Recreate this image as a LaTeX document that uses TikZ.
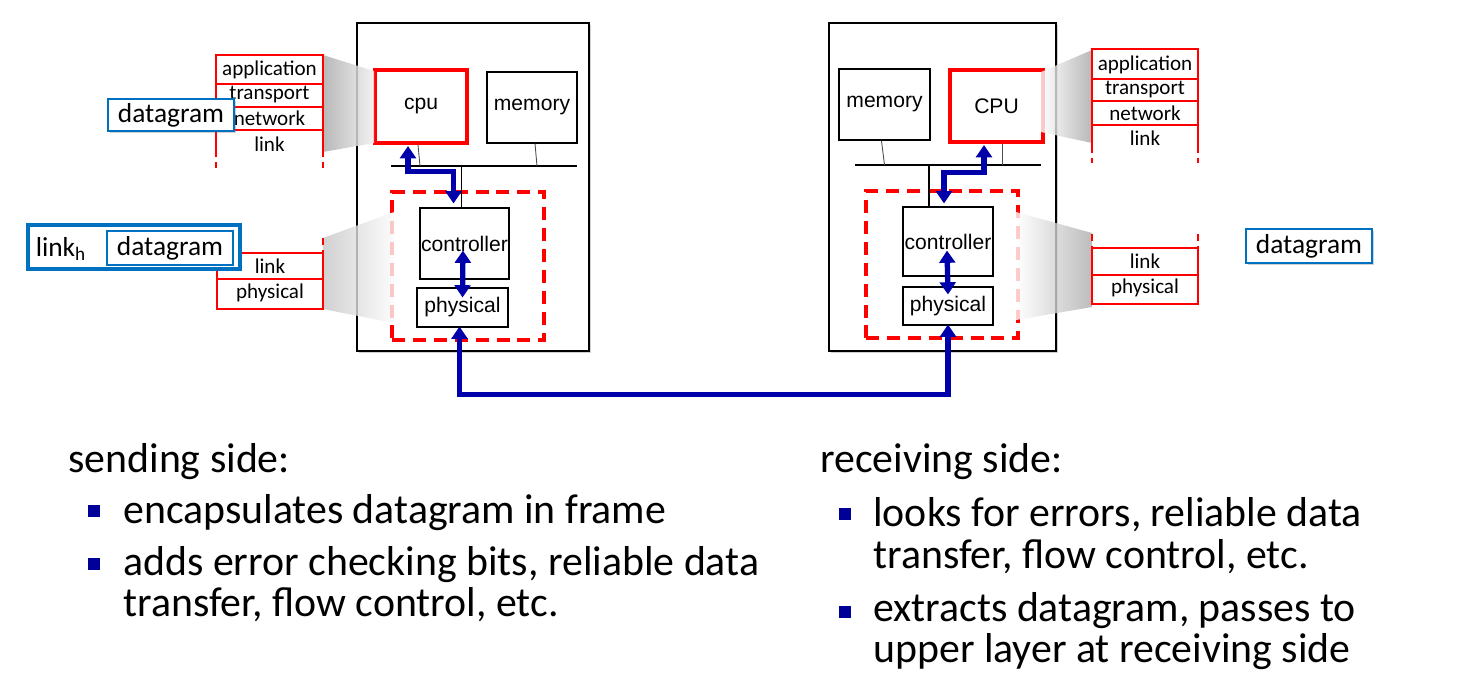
\documentclass[tikz,border=0pt]{standalone}
\usepackage{fontspec}
\setmainfont{Carlito}
\newfontfamily\arialfont{Liberation Sans}
\usetikzlibrary{positioning,calc,arrows.meta,shadows}

\newlength{\pxu}
\setlength{\pxu}{0.02cm}
\definecolor{stackred}{HTML}{FF0000}
\definecolor{dgblue}{HTML}{0070C0}
\definecolor{linkblue}{HTML}{0000AA}
\definecolor{bulletblue}{HTML}{000099}

\tikzset{
  softshadow/.style={drop shadow={shadow xshift=1.3pt, shadow yshift=-1.3pt, opacity=0.3, fill=black!60}},
  host/.style={draw, line width=0.6pt, fill=white, inner sep=0pt, softshadow},
  hwbox/.style={draw, line width=0.6pt, fill=white, inner sep=0pt, font=\arialfont\fontsize{12}{12}\selectfont},
  cpubox/.style={hwbox, draw=stackred, line width=2.3pt},
  nicbox/.style={draw=stackred, line width=2.3pt, dash pattern=on 7.4pt off 4.5pt, inner sep=0pt},
  stacklabel/.style={inner sep=0pt, font=\fontsize{12}{12}\selectfont},
  dgram/.style={draw=dgblue, line width=1.4pt, fill=white, inner sep=0pt, minimum width=126\pxu, minimum height=33\pxu, font=\fontsize{15.6}{15.6}\selectfont},
  bustick/.style={line width=0.5pt, black!70},
  darrow/.style={linkblue, line width=3pt, miter limit=4, {Triangle[width=9pt,length=7pt]}-{Triangle[width=9pt,length=7pt]}},
  bigtext/.style={inner sep=0pt, anchor=base west, font=\fontsize{23.8}{24}\selectfont},
  bulletsq/.style={fill=bulletblue, inner sep=0pt, minimum size=12\pxu},
}

\begin{document}
\begin{tikzpicture}[x=0.02cm, y=-0.02cm]
  \useasboundingbox (0,0) rectangle (1458,694);

  % sending host
  \node[host, minimum width=232\pxu, minimum height=328\pxu] (lhost) at (473,187) {};
  \node[cpubox, minimum width=92\pxu, minimum height=73\pxu] (lcpu) at (421,106.5) {cpu};
  \node[hwbox, minimum width=90\pxu, minimum height=71\pxu] (lmem) at (532,107.5) {memory};
  \coordinate (lbusl) at (391,166);
  \coordinate (lbusr) at (577,166);
  \draw[line width=0.6pt] (lbusl) -- (lbusr);
  \node[nicbox, minimum width=152\pxu, minimum height=148\pxu] (lnic) at (468,266) {};
  \node[hwbox, minimum width=89\pxu, minimum height=71\pxu] (lctrl) at (464.5,243.5) {controller};
  \node[hwbox, minimum width=91\pxu, minimum height=39\pxu] (lphys) at (462.5,307.5) {physical};
  \draw[bustick] ($(lcpu.south)+(-3,0)$) -- ($(lcpu.south |- lbusl)+(-1,0)$);
  \draw[bustick] ($(lmem.south)+(3,0)$) -- ($(lmem.south |- lbusl)+(5,0)$);
  \draw[line width=0.6pt] ($(lctrl.north)+(-3,0)$) -- ($(lctrl.north |- lbusl)+(-3,0)$);

  % receiving host
  \node[host, minimum width=227\pxu, minimum height=328\pxu] (rhost) at (942.5,187) {};
  \node[hwbox, line width=1.1pt, minimum width=91\pxu, minimum height=71\pxu] (rmem) at (884.5,104.5) {memory};
  \node[cpubox, minimum width=93\pxu, minimum height=72\pxu] (rcpu) at (996.5,106) {CPU};
  \coordinate (rbusl) at (855,165);
  \coordinate (rbusr) at (1041,165);
  \draw[line width=0.6pt] (rbusl) -- (rbusr);
  \node[nicbox, minimum width=152\pxu, minimum height=147\pxu] (rnic) at (942,264.5) {};
  \node[hwbox, minimum width=90\pxu, minimum height=69\pxu] (rctrl) at (948,241.5) {controller};
  \node[hwbox, minimum width=90\pxu, minimum height=38\pxu] (rphys) at (948,306) {physical};
  \draw[bustick] ($(rmem.south)+(-3,0)$) -- ($(rmem.south |- rbusl)+(0,0)$);
  \draw[bustick] ($(rcpu.south)+(5.5,0)$) -- ($(rcpu.south |- rbusl)+(5.5,0)$);
  \draw[line width=0.6pt] ($(rctrl.north)+(-19,0)$) -- ($(rctrl.north |- rbusl)+(-19,0)$);

  % zoom shadings
  \shade[left color=gray!65, right color=gray!12, opacity=0.85] (323,55) -- (374,71) -- (374,143) -- (323,152) -- cycle;
  \shade[left color=gray!45, right color=gray!3, opacity=0.8] (323,238) -- (394,212) -- (394,323) -- (323,309) -- cycle;
  \shade[left color=white, right color=gray!70, opacity=0.8] (1041,72) -- (1092,50) -- (1092,143) -- (1041,132) -- cycle;
  \shade[left color=white, right color=gray!65, opacity=0.8] (1016,212) -- (1092,233) -- (1092,307) -- (1016,320) -- cycle;

  % sending stacks
  \draw[stackred, line width=1.4pt] (216,150) -- (216,55) -- (323,55) -- (323,150);
  \foreach \yy in {84,107,130}
    \draw[stackred, line width=0.6pt] (216,\yy) -- (323,\yy);
  \draw[stackred, line width=0.6pt, dash pattern=on 4pt off 3pt] (216,150) -- (216,168) (323,150) -- (323,168);
  \node[stacklabel] (lapp) at (269.5,70) {application};
  \node[stacklabel] (ltrans) at (269.5,95) {transport};
  \node[stacklabel] (lnet) at (269.5,118.5) {network};
  \node[stacklabel] (llink) at (269.5,144) {link};

  \draw[stackred, line width=0.6pt, dash pattern=on 4pt off 3pt] (217,238) -- (217,253) (323,238) -- (323,253);
  \draw[stackred, line width=0.8pt] (217,253) rectangle (323,309);
  \draw[stackred, line width=0.6pt] (217,279) -- (323,279);
  \node[stacklabel] (llink2) at (270,266.5) {link};
  \node[stacklabel] (lphy2) at (270,292.5) {physical};

  % receiving stacks
  \draw[stackred, line width=1.4pt] (1092,146) -- (1092,49) -- (1198,49) -- (1198,146);
  \foreach \yy in {79,101,125}
    \draw[stackred, line width=0.6pt] (1092,\yy) -- (1198,\yy);
  \draw[stackred, line width=0.6pt, dash pattern=on 4pt off 3pt] (1092,146) -- (1092,163) (1198,146) -- (1198,163);
  \node[stacklabel] (rapp) at (1145,65) {application};
  \node[stacklabel] (rtrans) at (1145,90) {transport};
  \node[stacklabel] (rnet) at (1145,113.5) {network};
  \node[stacklabel] (rlink) at (1145,138) {link};

  \draw[stackred, line width=0.6pt, dash pattern=on 4pt off 3pt] (1092,234) -- (1092,248) (1198,234) -- (1198,248);
  \draw[stackred, line width=0.8pt] (1092,248) rectangle (1198,304);
  \draw[stackred, line width=0.6pt] (1092,275) -- (1198,275);
  \node[stacklabel] (rlink2) at (1145,261.5) {link};
  \node[stacklabel] (rphy2) at (1145,287.5) {physical};

  % datagrams and frame
  \node[dgram, minimum height=32\pxu, softshadow] (ldgram) at (171,115) {datagram};
  \node[draw=dgblue, line width=2.3pt, fill=white, inner sep=0pt, minimum width=212\pxu, minimum height=44\pxu, softshadow] (lframe) at (134,247) {};
  \node[dgram, minimum height=34\pxu] (lfdgram) at (170,248) {datagram};
  \node[inner sep=0pt, font=\fontsize{15.6}{15.6}\selectfont] (lhdr) at (61,249) {link\textsubscript{h}};
  \node[dgram, minimum height=34\pxu, softshadow] (rdgram) at (1309,246) {datagram};

  % links
  \draw[darrow] ($(lcpu.south)+(-13,1)$) |- ($(lctrl.north)+(-11,-36)$) -- ($(lctrl.north)+(-11,-4)$);
  \draw[darrow] ($(lctrl.south)+(-1.5,-29)$) -- ($(lphys.north)+(0,10)$);
  \draw[darrow] ($(rcpu.south)+(-12.5,1)$) |- ($(rctrl.north)+(-4,-34)$) -- ($(rctrl.north)+(-4,-3)$);
  \draw[darrow] ($(rctrl.south)+(-1,-26)$) -- ($(rphys.north)+(0,8)$);
  \draw[darrow] ($(lphys.south)+(-3,-1)$) -- ++(0,68) -| ($(rphys.south)+(0,-1)$);

  % sending side text
  \node[bigtext] (send) at (68,472) {sending side:};
  \node[bulletsq] (sb1) at (94,511) {};
  \node[bigtext] (st1) at (123,523) {encapsulates datagram in frame};
  \node[bulletsq] (sb2) at (94,564) {};
  \node[bigtext] (st2) at (123,575) {adds error checking bits, reliable data};
  \node[bigtext] (st3) at (123,616) {transfer, flow control, etc.};

  % receiving side text
  \node[bigtext] (recv) at (820,472) {receiving side:};
  \node[bulletsq] (rb1) at (845,514) {};
  \node[bigtext] (rt1) at (873,526) {looks for errors, reliable data};
  \node[bigtext] (rt2) at (873,568) {transfer, flow control, etc.};
  \node[bulletsq] (rb2) at (845,612) {};
  \node[bigtext] (rt3) at (873,621) {extracts datagram, passes to};
  \node[bigtext] (rt4) at (873,662) {upper layer at receiving side};
\end{tikzpicture}
\end{document}
